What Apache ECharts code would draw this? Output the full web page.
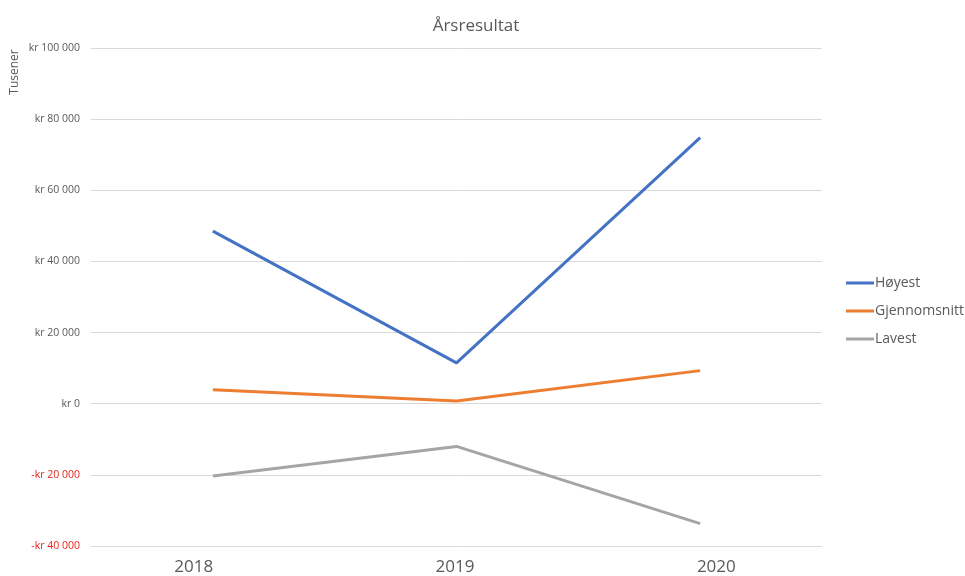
<!DOCTYPE html>
<html>
<head>
<meta charset="utf-8">
<script src="https://cdn.jsdelivr.net/npm/echarts@6/dist/echarts.min.js"></script>
<style>
  html, body { margin: 0; padding: 0; background: #fff; }
  #chart { width: 965px; height: 576px; }
</style>
</head>
<body>
<div id="chart"></div>
<script>
// Årsresultat per year, in thousands of kroner
const years = ['2018', '2019', '2020'];
const hoyest = [48500, 11500, 74800];
const gjennomsnitt = [3900, 760, 9300];
const lavest = [-20300, -12000, -33700];
const seriesNames = ['Høyest', 'Gjennomsnitt', 'Lavest'];
const colors = ['#4472C4', '#ED7D31', '#A5A5A5'];

function formatKr(v) {
  const abs = Math.abs(v).toString().replace(/\B(?=(\d{3})+(?!\d))/g, ' ');
  return (v < 0 ? '-kr ' : 'kr ') + abs;
}

const chart = echarts.init(document.getElementById('chart'));
const fontFamily = '"Open Sans", "Liberation Sans", sans-serif';

chart.setOption({
  animation: false,
  textStyle: { fontFamily },
  title: {
    text: 'Årsresultat',
    left: 471,
    textAlign: 'center',
    top: 13,
    textStyle: { fontSize: 17, fontWeight: 'normal', color: '#595959', fontFamily }
  },
  legend: {
    orient: 'vertical',
    left: 841,
    top: 271,
    itemGap: 14,
    itemWidth: 28,
    itemHeight: 3,
    icon: 'rect',
    data: seriesNames,
    textStyle: { fontSize: 14, color: '#595959', padding: [0, 0, 0, -4] }
  },
  grid: [
    { left: 91, right: 143, top: 48, bottom: 30 },
    // wider band used only for placing the year labels
    { left: 63, right: 118, top: 48, bottom: 30 }
  ],
  xAxis: [
    {
      type: 'category',
      gridIndex: 0,
      data: years,
      boundaryGap: true,
      axisLine: { show: false },
      axisTick: { show: false },
      axisLabel: { show: false }
    },
    {
      type: 'category',
      gridIndex: 1,
      data: years,
      boundaryGap: true,
      axisLine: { show: false },
      axisTick: { show: false },
      splitLine: { show: false },
      axisLabel: { fontSize: 17, color: '#595959', margin: 13 }
    }
  ],
  yAxis: [
    {
      type: 'value',
      gridIndex: 0,
      min: -40000,
      max: 100000,
      interval: 20000,
      axisLine: { show: false },
      axisTick: { show: false },
      splitLine: { lineStyle: { color: '#D9D9D9', width: 1 } },
      axisLabel: {
        fontSize: 10.5,
        margin: 11,
        formatter: v => formatKr(v),
        color: v => (Number(v) < 0 ? '#E8231C' : '#595959')
      }
    },
    {
      type: 'value',
      gridIndex: 1,
      min: -40000,
      max: 100000,
      show: false
    }
  ],
  graphic: [{
    type: 'text',
    x: 15,
    y: 72,
    rotation: Math.PI / 2,
    style: {
      text: 'Tusener',
      fill: '#595959',
      fontSize: 12,
      fontFamily,
      align: 'center',
      verticalAlign: 'middle'
    }
  }],
  series: [
    { name: seriesNames[0], type: 'line', data: hoyest },
    { name: seriesNames[1], type: 'line', data: gjennomsnitt },
    { name: seriesNames[2], type: 'line', data: lavest }
  ].map((s, i) => Object.assign(s, {
    xAxisIndex: 0,
    yAxisIndex: 0,
    symbol: 'none',
    color: colors[i],
    lineStyle: { width: 3, color: colors[i] }
  }))
});
</script>
</body>
</html>
